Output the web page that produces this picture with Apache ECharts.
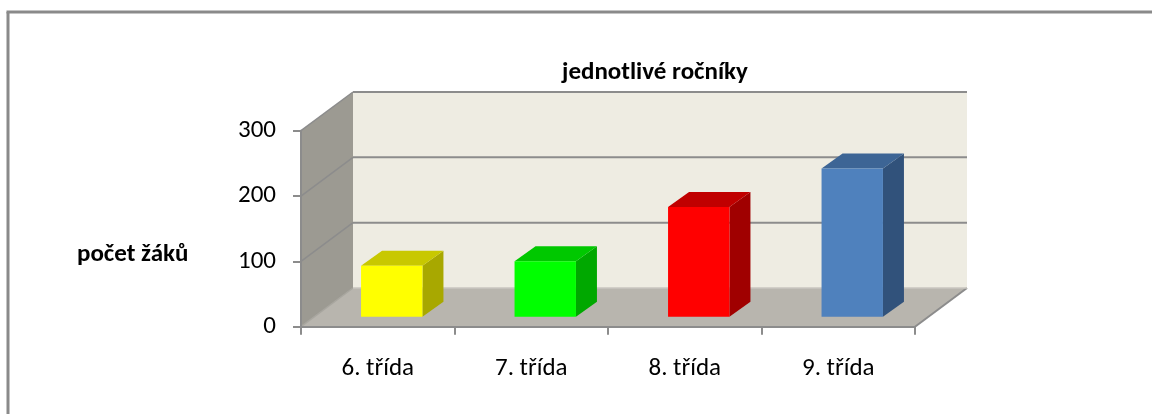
<!DOCTYPE html>
<html>
<head>
<meta charset="utf-8">
<script src="https://cdn.jsdelivr.net/npm/echarts@6/dist/echarts.min.js"></script>
<style>
html,body{margin:0;padding:0;background:#fff;overflow:hidden;}
#chart{width:1152px;height:414px;}
</style>
</head>
<body>
<div id="chart"></div>
<script>
// ---- data ----
var categories = ['6. třída', '7. třída', '8. třída', '9. třída'];
var values = [78, 85, 168, 227];
var yTicks = [0, 100, 200, 300];
var titleText = 'jednotlivé ročníky';
var yAxisTitle = 'počet žáků';

// ---- styles ----
var barColors = [
  {front: '#FFFF00', top: '#C8C800', side: '#A8A800'},
  {front: '#00FF00', top: '#00C800', side: '#00A800'},
  {front: '#FF0000', top: '#C00000', side: '#A00000'},
  {front: '#4F81BD', top: '#3D6595', side: '#31527B'}
];
var FONT = 'Carlito, Lato, sans-serif';
var DX = 52, DY = -38.7;       // wall depth
var BX = 14, BY = -10;         // bar front plane offset
var SX = 21, SY = -15;         // bar depth
var GRID_COLOR = '#8C8C8C';

var chart = echarts.init(document.getElementById('chart'), null, {renderer: 'canvas'});

function frameItem(params, api) {
  var cs = params.coordSys;
  var x0 = cs.x, x1 = cs.x + cs.width;
  var yb = api.coord([0, 0])[1];
  var yt = api.coord([0, yTicks[yTicks.length - 1]])[1];
  var children = [];
  children.push({type: 'polygon', shape: {points: [[x0, yb], [x0, yt], [x0 + DX, yt + DY], [x0 + DX, yb + DY]]},
    style: {fill: '#9C9A92', stroke: null}});
  children.push({type: 'rect', shape: {x: x0 + DX, y: yt + DY, width: x1 - x0, height: yb - yt},
    style: {fill: '#EEECE2', stroke: null}});
  children.push({type: 'polygon', shape: {points: [[x0, yb], [x1, yb], [x1 + DX, yb + DY], [x0 + DX, yb + DY]]},
    style: {fill: '#B8B5AE', stroke: null}});
  children.push({type: 'line', shape: {x1: x0, y1: yb, x2: x0 + DX, y2: yb + DY},
    style: {stroke: '#A8A69F', lineWidth: 1.5}});
  children.push({type: 'line', shape: {x1: x1, y1: yb, x2: x1 + DX, y2: yb + DY},
    style: {stroke: GRID_COLOR, lineWidth: 2}});
  children.push({type: 'line', shape: {x1: x0 + DX, y1: yb + DY, x2: x1 + DX, y2: yb + DY},
    style: {stroke: '#C8C6BF', lineWidth: 1.5}});
  for (var i = 1; i < yTicks.length; i++) {
    var y = api.coord([0, yTicks[i]])[1];
    children.push({type: 'line', shape: {x1: x0 + DX, y1: y + DY, x2: x1 + DX, y2: y + DY},
      style: {stroke: GRID_COLOR, lineWidth: 2}});
    children.push({type: 'line', shape: {x1: x0, y1: y, x2: x0 + DX, y2: y + DY},
      style: {stroke: GRID_COLOR, lineWidth: 1.5}});
  }
  return {type: 'group', children: children};
}

function barItem(params, api) {
  var idx = api.value(0);
  var v = api.value(1);
  var c = api.coord([idx, 0]);
  var t = api.coord([idx, v]);
  var band = api.size([1, 0])[0];
  var w = band * 0.4;
  var xl = c[0] + BX - w / 2, xr = xl + w;
  var yb = c[1] + BY, yt = t[1] + BY;
  var col = barColors[idx % barColors.length];
  return {type: 'group', children: [
    {type: 'polygon', shape: {points: [[xr, yt], [xr + SX, yt + SY], [xr + SX, yb + SY], [xr, yb]]},
      style: {fill: col.side, stroke: null}},
    {type: 'polygon', shape: {points: [[xl, yt], [xr, yt], [xr + SX, yt + SY], [xl + SX, yt + SY]]},
      style: {fill: col.top, stroke: null}},
    {type: 'rect', shape: {x: xl, y: yt, width: w, height: yb - yt},
      style: {fill: col.front, stroke: null}}
  ]};
}

var option = {
  animation: false,
  backgroundColor: '#ffffff',
  grid: {left: 301, right: 237, top: 130.7, bottom: 87.3, containLabel: false},
  xAxis: {
    type: 'category',
    data: categories,
    boundaryGap: true,
    axisLine: {show: true, lineStyle: {color: GRID_COLOR, width: 2}},
    axisTick: {show: true, length: 8, alignWithLabel: false, lineStyle: {color: GRID_COLOR, width: 2}},
    axisLabel: {color: '#000', fontFamily: FONT, fontSize: 25, margin: 30},
    splitLine: {show: false},
    z: 10
  },
  yAxis: {
    type: 'value',
    min: yTicks[0],
    max: yTicks[yTicks.length - 1],
    interval: 100,
    axisLine: {show: true, lineStyle: {color: GRID_COLOR, width: 2}},
    axisTick: {show: true, length: 8, lineStyle: {color: GRID_COLOR, width: 2}},
    axisLabel: {color: '#000', fontFamily: FONT, fontSize: 25, margin: 25},
    splitLine: {show: false},
    z: 10
  },
  graphic: [
    {type: 'line', z: -1, shape: {x1: 8, y1: 12, x2: 8, y2: 420},
      style: {stroke: '#8A8A8A', lineWidth: 3}},
    {type: 'line', z: -1, shape: {x1: 6.5, y1: 12, x2: 1160, y2: 12},
      style: {stroke: '#8A8A8A', lineWidth: 3}},
    {type: 'text', x: 655, y: 73, style: {text: titleText, fontFamily: FONT, fontSize: 25, fontWeight: 'bold',
      fill: '#000', textAlign: 'center', textVerticalAlign: 'middle'}},
    {type: 'text', x: 77, y: 255, style: {text: yAxisTitle, fontFamily: FONT, fontSize: 25, fontWeight: 'bold',
      fill: '#000', textAlign: 'left', textVerticalAlign: 'middle'}}
  ],
  series: [
    {type: 'custom', renderItem: frameItem, data: [0], silent: true, z: 1},
    {type: 'custom', renderItem: barItem, data: values.map(function (v, i) { return [i, v]; }), z: 5}
  ]
};
chart.setOption(option);
</script>
</body>
</html>
